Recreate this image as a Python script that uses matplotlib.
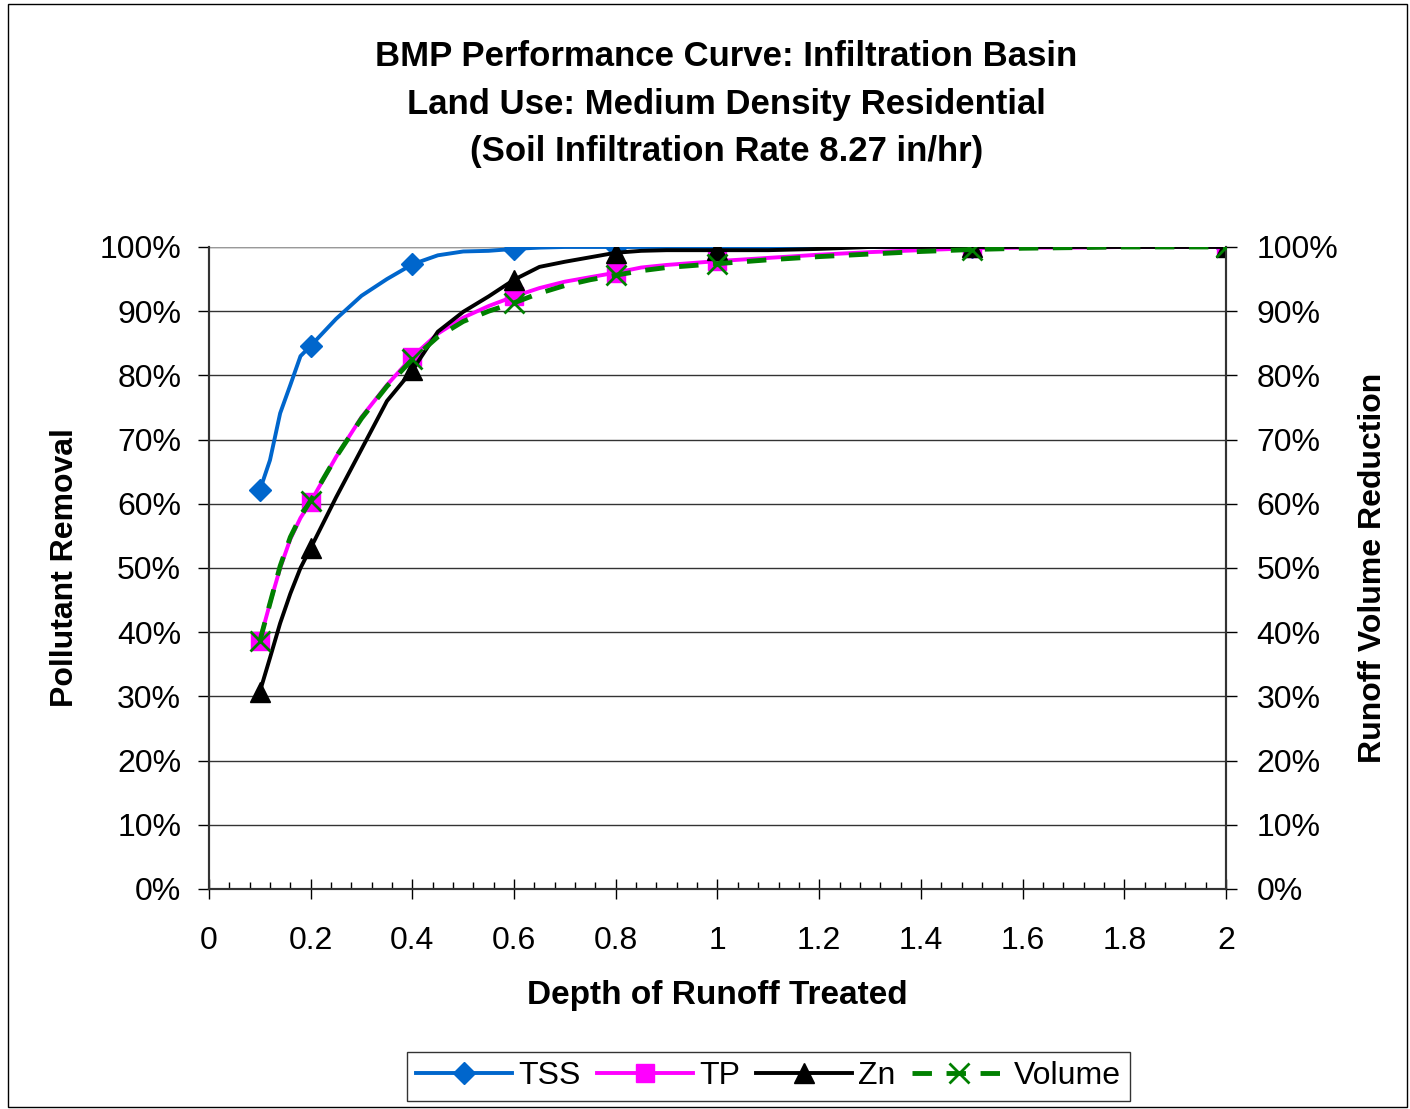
import matplotlib
matplotlib.use("Agg")
import matplotlib.pyplot as plt
from matplotlib.ticker import MultipleLocator, PercentFormatter
from matplotlib.patches import Rectangle

plt.rcParams['font.family'] = ['Liberation Sans', 'DejaVu Sans']

# ---- data (depth in inches, removal in %) ----
depth = [0.1, 0.12, 0.14, 0.16, 0.18, 0.2, 0.25, 0.3, 0.35, 0.4, 0.45, 0.5,
         0.55, 0.6, 0.65, 0.7, 0.75, 0.8, 0.85, 0.9, 0.95, 1.0, 1.1, 1.2,
         1.3, 1.4, 1.5, 1.6, 1.7, 1.8, 1.9, 2.0]
marker_idx = [0, 5, 9, 13, 17, 21, 26, 31]

tss = [62.1, 66.8, 74.1, 78.5, 83.0, 84.6, 88.8, 92.4, 95.0, 97.3, 98.7, 99.3,
       99.4, 99.7, 99.9, 100, 100, 100, 100, 100, 100, 100, 100, 100,
       100, 100, 100, 100, 100, 100, 100, 100]
tp = [38.7, 44.5, 50.0, 54.5, 57.8, 60.3, 67.3, 73.5, 78.5, 82.9, 86.5, 89.0,
      90.8, 92.3, 93.6, 94.6, 95.3, 96.0, 96.8, 97.2, 97.5, 97.8, 98.3, 98.8,
      99.2, 99.5, 99.8, 99.9, 99.9, 100, 100, 100]
zn = [30.7, 36.0, 41.4, 46.0, 50.0, 53.1, 61.0, 68.5, 76.0, 80.8, 86.8, 89.9,
      92.3, 94.9, 96.9, 97.7, 98.4, 99.1, 99.4, 99.5, 99.5, 99.5, 99.5, 99.7,
      100, 100, 100, 100, 100, 100, 100, 100]
volume = [38.6, 44.5, 50.3, 54.8, 58.0, 60.5, 67.3, 73.3, 78.3, 82.5, 86.0, 88.4,
          90.0, 91.3, 92.8, 94.0, 94.9, 95.6, 96.3, 96.8, 97.1, 97.4, 98.0, 98.5,
          98.9, 99.3, 99.6, 99.8, 99.9, 100, 100, 100]

title = ("BMP Performance Curve: Infiltration Basin\n"
         "Land Use: Medium Density Residential\n"
         "(Soil Infiltration Rate 8.27 in/hr)")

fig = plt.figure(figsize=(14.1, 11.09), dpi=100)
fig.patches.append(Rectangle((0.006, 0.002), 0.992, 0.994, transform=fig.transFigure,
                             fill=False, edgecolor='black', linewidth=1))

ax = fig.add_axes([0.1482, 0.1984, 0.7213, 0.5789])
ax2 = ax.twinx()

ax.plot(depth, tss, color='#0066CC', lw=2.8, marker='D', ms=11,
        markevery=marker_idx, label='TSS', zorder=3)
ax.plot(depth, tp, color='#FF00FF', lw=2.8, marker='s', ms=13,
        markevery=marker_idx, label='TP', zorder=3)
ax.plot(depth, zn, color='black', lw=2.8, marker='^', ms=15,
        markevery=marker_idx, label='Zn', zorder=4)
ax2.plot(depth, volume, color='#008000', lw=3.5, dashes=(4, 3), marker='x', ms=14,
         mew=2, markevery=marker_idx, label='Volume', zorder=5)

for a in (ax, ax2):
    a.set_xlim(0, 2)
    a.set_ylim(0, 100)
    a.yaxis.set_major_locator(MultipleLocator(10))
    a.yaxis.set_major_formatter(PercentFormatter(decimals=0))
    a.spines['top'].set_visible(False)

ax.tick_params(axis='y', labelsize=23, length=8, width=1, pad=12, labelright=False)
ax2.tick_params(axis='y', labelsize=23, length=8, width=1, pad=14, labelleft=False)

ax.grid(axis='y', color='#333333', lw=1)
ax.set_axisbelow(True)
ax.axhline(100, color='#999999', lw=1.5, zorder=1)

ax.xaxis.set_major_locator(MultipleLocator(0.2))
ax.xaxis.set_minor_locator(MultipleLocator(0.04))
ax.xaxis.set_major_formatter(plt.FuncFormatter(lambda v, p: f"{v:g}"))
ax.tick_params(axis='x', which='major', direction='inout', length=14, width=1,
               labelsize=23, pad=20)
ax.tick_params(axis='x', which='minor', direction='in', length=5, width=1)

for a in (ax, ax2):
    for s in ('left', 'right', 'bottom'):
        a.spines[s].set_color('#333333')
        a.spines[s].set_linewidth(1.5)

ax.set_xlabel("Depth of Runoff Treated", fontsize=24, fontweight='bold', labelpad=17)
ax.set_ylabel("Pollutant Removal", fontsize=23, fontweight='bold', labelpad=14)
ax2.set_ylabel("Runoff Volume Reduction", fontsize=23, fontweight='bold', labelpad=14)

fig.text(0.515, 0.906, title, ha='center', va='center', fontsize=25, fontweight='bold',
         linespacing=1.56)

h1, l1 = ax.get_legend_handles_labels()
h2, l2 = ax2.get_legend_handles_labels()
leg = fig.legend(h1 + h2, l1 + l2, loc='center', bbox_to_anchor=(0.545, 0.0295),
                 ncol=4, fontsize=23, frameon=True, fancybox=False, edgecolor='black',
                 handlelength=3.0, handletextpad=0.2, columnspacing=0.5,
                 numpoints=1, borderpad=0.3)
leg.get_frame().set_linewidth(1)

fig.savefig("out.png", dpi=100)
